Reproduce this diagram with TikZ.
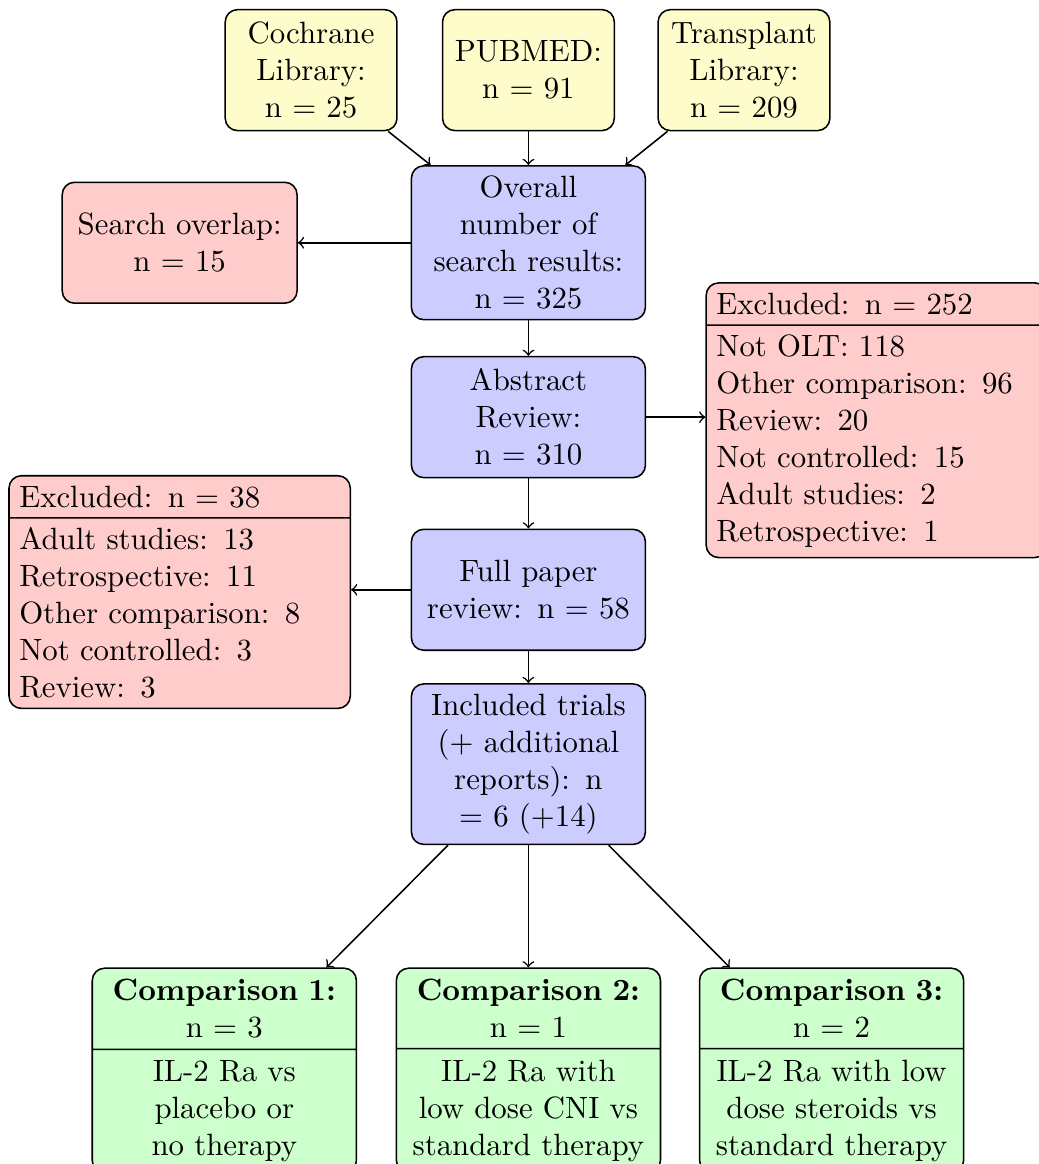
\documentclass[tikz,border=0pt]{standalone}
\usetikzlibrary{shapes.multipart, positioning}

\begin{document}
\begin{tikzpicture}[->, draw=black, line width=0.5pt]
    \tikzstyle{box}=[draw=black, rounded corners=4pt, align=center]
    \tikzstyle{source}=[box, fill=yellow!20, text width=1.7cm, minimum width=1.96cm, minimum height=1.38cm]
    \tikzstyle{stage}=[box, fill=blue!20, text width=2.4cm, minimum width=2.67cm, minimum height=1.38cm]
    \tikzstyle{overlap}=[box, fill=red!20, text width=2.4cm, minimum width=2.68cm, minimum height=1.38cm]
    \tikzstyle{excluded}=[box, fill=red!20, rectangle split, rectangle split parts=2, text width=3.66cm, align=left, inner ysep=3pt]
    \tikzstyle{comparison}=[box, fill=green!20, rectangle split, rectangle split parts=2, text width=2.78cm]

    \useasboundingbox (0,0) rectangle (11.846,-13.283);

    \node[source] (S-1) at (3.55,-0.80) {Cochrane\\Library:\\n = 25};
    \node[source] (S-2) at (6.03,-0.80) {PUBMED:\\n = 91};
    \node[source] (S-3) at (8.49,-0.80) {Transplant\\Library:\\n = 209};

    \node[stage] (overall) at (6.03,-2.77) {Overall\\number of\\search results:\\n = 325};
    \node[overlap] (overlap) at (2.05,-2.77) {Search overlap:\\n = 15};
    \node[stage] (abstract) at (6.03,-4.76) {Abstract\\Review:\\n = 310};
    \node[stage] (full) at (6.03,-6.73) {Full paper\\review: n = 58};
    \node[stage] (included) at (6.03,-8.72) {Included trials\\(+ additional\\reports): n\\= 6 (+14)};

    \node[excluded, anchor=north west] (excl-1) at (8.05,-3.22) {Excluded: n = 252
        \nodepart{two} Not OLT: 118\\Other comparison: 96\\Review: 20\\Not controlled: 15\\Adult studies: 2\\Retrospective: 1};
    \node[excluded, anchor=north east] (excl-2) at (4.006,-5.42) {Excluded: n = 38
        \nodepart{two} Adult studies: 13\\Retrospective: 11\\Other comparison: 8\\Not controlled: 3\\Review: 3};

    % the three comparisons
    \node[comparison, anchor=north] (C-1) at (2.56,-11.04) {\textbf{Comparison 1:}\\n = 3
        \nodepart{two} IL-2 Ra vs\\placebo or\\no therapy};
    \node[comparison, anchor=north] (C-2) at (6.03,-11.04) {\textbf{Comparison 2:}\\n = 1
        \nodepart{two} IL-2 Ra with\\low dose CNI vs\\standard therapy};
    \node[comparison, anchor=north] (C-3) at (9.49,-11.04) {\textbf{Comparison 3:}\\n = 2
        \nodepart{two} IL-2 Ra with low\\dose steroids vs\\standard therapy};

    \draw (S-1) -- (overall);
    \draw (S-2) -- (overall);
    \draw (S-3) -- (overall);
    \draw (overall) -- (overlap);
    \draw (overall) -- (abstract);
    \draw (abstract.east) -- (abstract.east -| excl-1.west);
    \draw (abstract) -- (full);
    \draw (full.west) -- (full.west -| excl-2.east);
    \draw (full) -- (included);
    \draw (included) -- (C-1);
    \draw (included) -- (C-2);
    \draw (included) -- (C-3);
\end{tikzpicture}
\end{document}
